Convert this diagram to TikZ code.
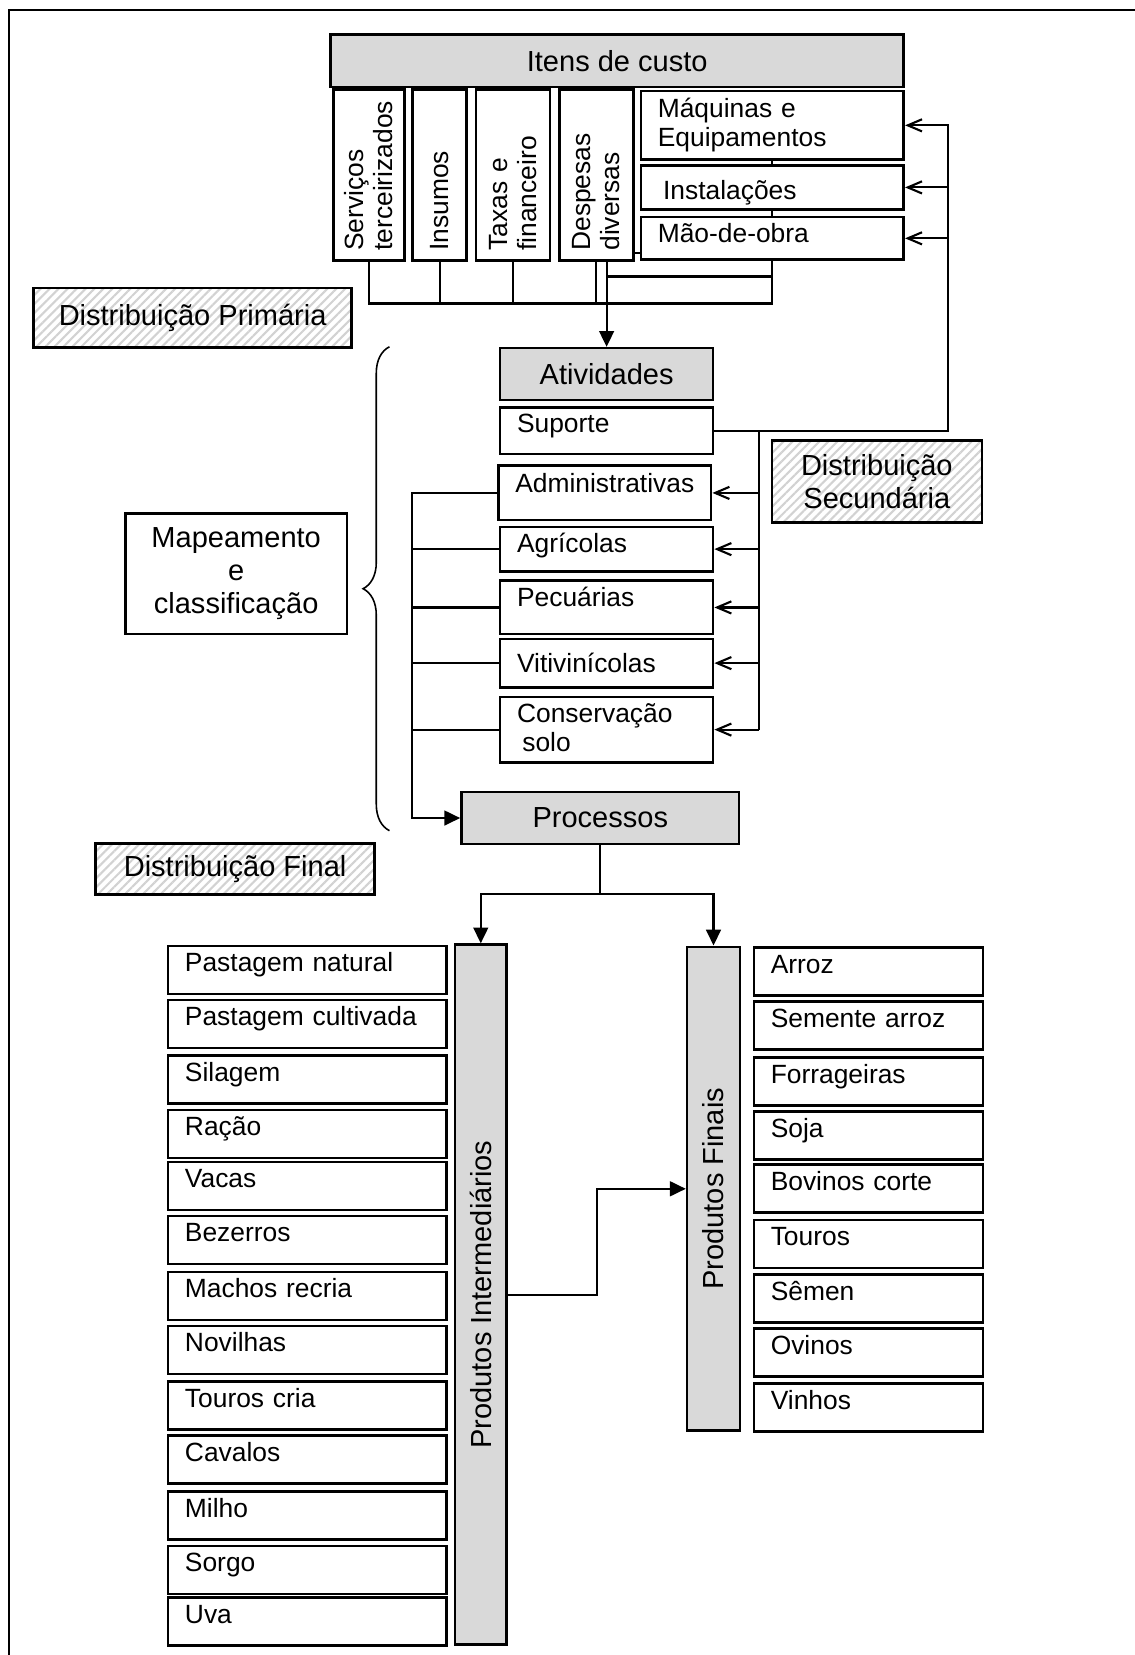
\documentclass[tikz,border=0pt]{standalone}
\usepackage{fontspec}
\setmainfont{Liberation Sans}
\usetikzlibrary{arrows.meta, patterns.meta, decorations.pathreplacing}

\definecolor{hdrgray}{HTML}{D9D9D9}
\newcommand{\hdrfont}{\fontsize{11}{12.6}\selectfont}
\newcommand{\itemfont}{\fontsize{10}{11}\selectfont}

\begin{document}
\begin{tikzpicture}[x=0.4pt, y=-0.4pt,
  conn/.style={line width=0.8pt},
  filltip/.style={-{Triangle[length=6pt,width=5.6pt]}},
  opentip/.style={-{Straight Barb[length=5.4pt,width=4.6pt]}},
  hdr/.style={draw, line width=1pt, fill=hdrgray, font=\hdrfont, anchor=north west, inner sep=0pt},
  hatchbox/.style={draw, line width=1pt, pattern={Lines[angle=45,distance=2.4pt,line width=0.8pt]}, pattern color=gray!35, font=\hdrfont, align=center, anchor=north west, inner sep=0pt},
  itembox/.style={draw, line width=1pt, font=\itemfont, align=left, anchor=north west, inner xsep=6.4pt, inner ysep=0pt, text height=9.8pt},
  vertbox/.style={draw, line width=1pt, rotate=90, font=\itemfont, align=left, inner xsep=3.7pt, inner ysep=0pt, text width=57.4pt, minimum width=64.8pt},
  vertbar/.style={draw, line width=1pt, fill=hdrgray, rotate=90, font=\hdrfont, inner sep=0pt}]
  \useasboundingbox (0,0) rectangle (1075,1568);
  % outer frame, cut off at the right and bottom
  \draw[line width=1pt] (8.5,1568) -- (8.5,9.5) -- (1075,9.5);

  % cost items
  \node[hdr, minimum width=217.2pt, minimum height=19.8pt] (Itens) at (312,31.5) {Itens de custo};
  \node[vertbox, minimum height=26.8pt] (Serv) at (349.5,165.7) {Serviços\\terceirizados};
  \node[vertbox, minimum height=20.4pt] (Ins) at (416.5,165.7) {Insumos};
  \node[vertbox, minimum height=28pt] (Tax) at (486,165.7) {Taxas e\\financeiro};
  \node[vertbox, minimum height=28pt] (Desp) at (565,165.7) {Despesas\\diversas};
  \node[itembox, text width=86.8pt, text height=10.2pt, text depth=15.8pt] (Maq) at (606,85) {Máquinas e\\Equipamentos};
  \node[itembox, inner xsep=8.4pt, text width=82.8pt, text height=13pt, text depth=3.8pt] (Inst) at (606,155.3) {Instalações};
  \node[itembox, text width=86.8pt, text height=9.5pt, text depth=6.7pt] (Mao) at (606,204.3) {Mão-de-obra};
  \node[hatchbox, minimum width=120.4pt, minimum height=22.6pt] (DPrim) at (31,272) {Distribuição Primária};

  % activities
  \node[hdr, minimum width=80.7pt, minimum height=19.7pt] (Ativ) at (472.6,328.6) {Atividades};
  \node[itembox, text width=67.9pt, text height=9.5pt, text depth=8.1pt] (Sup) at (472.6,385) {Suporte};
  \node[itembox, text width=67.8pt, text height=10.1pt, text depth=10.5pt] (Adm) at (471,440) {Administrativas};
  \node[itembox, text width=67.9pt, text depth=7pt] (Agr) at (472.6,498) {Agrícolas};
  \node[itembox, text width=67.9pt, text depth=10.4pt] (Pec) at (472.6,549) {Pecuárias};
  \node[itembox, text width=67.9pt, text height=12.8pt, text depth=5.6pt] (Vit) at (472.6,604) {Vitivinícolas};
  \node[itembox, text width=67.9pt, text height=9.6pt, text depth=15.2pt] (Cons) at (472.6,659) {Conservação\\\hspace*{2pt}solo};
  \node[hatchbox, minimum width=79.6pt, minimum height=31.2pt] (DSec) at (730,416) {Distribuição\\Secundária};
  \node[draw, line width=1pt, font=\hdrfont, align=center, anchor=north west, inner sep=0pt,
        minimum width=84pt, minimum height=45.8pt] (Map) at (117.5,485) {Mapeamento\\e\\classificação};
  \draw[line width=0.6pt, decorate, decoration={brace, amplitude=10pt}] (369,787) -- (369,328.5);

  % processes and products
  \node[hdr, minimum width=105.2pt, minimum height=19.8pt] (Proc) at (436,749) {Processos};
  \node[hatchbox, minimum width=105.6pt, minimum height=19.2pt] (DFin) at (89.5,798) {Distribuição Final};
  \node[vertbar, minimum width=265.2pt, minimum height=19.6pt] (PInt) at (455.5,1226.5) {Produtos Intermediários};
  \node[vertbar, minimum width=183.4pt, minimum height=20pt] (PFin) at (676,1126.3) {Produtos Finais};
  \foreach \txt/\y [count=\i] in {Pastagem natural/895, Pastagem cultivada/946, Silagem/999, Ração/1050.4,
      Vacas/1099.6, Bezerros/1150.8, Machos recria/1203.8, Novilhas/1255, Touros cria/1307.7,
      Cavalos/1359, Milho/1412, Sorgo/1463.3, Uva/1512.3}
    \node[itembox, text width=92.8pt, text depth=8.4pt] (PI\i) at (158,\y) {\txt};
  \foreach \txt/\y [count=\i] in {Arroz/896.6, Semente arroz/947.8, Forrageiras/1000.8, Soja/1052,
      Bovinos corte/1101.8, Touros/1154.6, Sêmen/1206, Ovinos/1257.5, Vinhos/1309.3}
    \node[itembox, text width=74pt, text depth=8.4pt] (PF\i) at (713,\y) {\txt};

  % primary distribution
  \coordinate (pbus) at (0,287.5);
  \coordinate (pmid) at (0,262);
  \draw[conn] (Maq.south) -- (Inst.north);
  \draw[conn] (Inst.south) -- (Mao.north);
  \draw[conn] (Desp.south |- 0,240) -- (Mao.west |- 0,240);
  \draw[conn] (Serv.west) |- (Mao.south |- pbus) -- (Mao.south);
  \foreach \n in {Ins,Tax,Desp} \draw[conn] (\n.west) -- (\n.west |- pbus);
  \draw[conn] (Ativ.north |- pmid) -- (Mao.south |- pmid);
  \draw[conn, filltip] (Ativ.north |- Desp.west) -- (Ativ.north);

  % support activities fed back to the resources
  \coordinate (fbk) at (898,0);
  \draw[conn, opentip] (Sup.east) -| (fbk |- Maq.east) -- (Maq.east);
  \foreach \n in {Inst,Mao} \draw[conn, opentip] (fbk |- \n.east) -- (\n.east);

  % secondary distribution
  \coordinate (sbus) at (719,0);
  \draw[conn] (sbus |- Sup.east) -- (sbus |- Cons.east);
  \foreach \n in {Adm,Agr,Pec,Vit,Cons} \draw[conn, opentip] (sbus |- \n.east) -- (\n.east);

  % activities to processes
  \coordinate (lbus) at (390.5,0);
  \draw[conn, filltip] (Adm.west) -| (lbus |- Proc.west) -- (Proc.west);
  \foreach \n in {Agr,Pec,Vit,Cons} \draw[conn] (\n.west) -- (lbus |- \n.west);

  % final distribution
  \coordinate (pbr) at (0,847);
  \coordinate (pmid2) at (566,0);
  \draw[conn, filltip] (Proc.south) |- (pbr -| PInt.east) -- (PInt.east);
  \draw[conn, filltip] (Proc.south |- pbr) -| (PFin.east);
  \draw[conn, filltip] (PInt.south) -| (pmid2 |- PFin.north) -- (PFin.north);
\end{tikzpicture}
\end{document}
